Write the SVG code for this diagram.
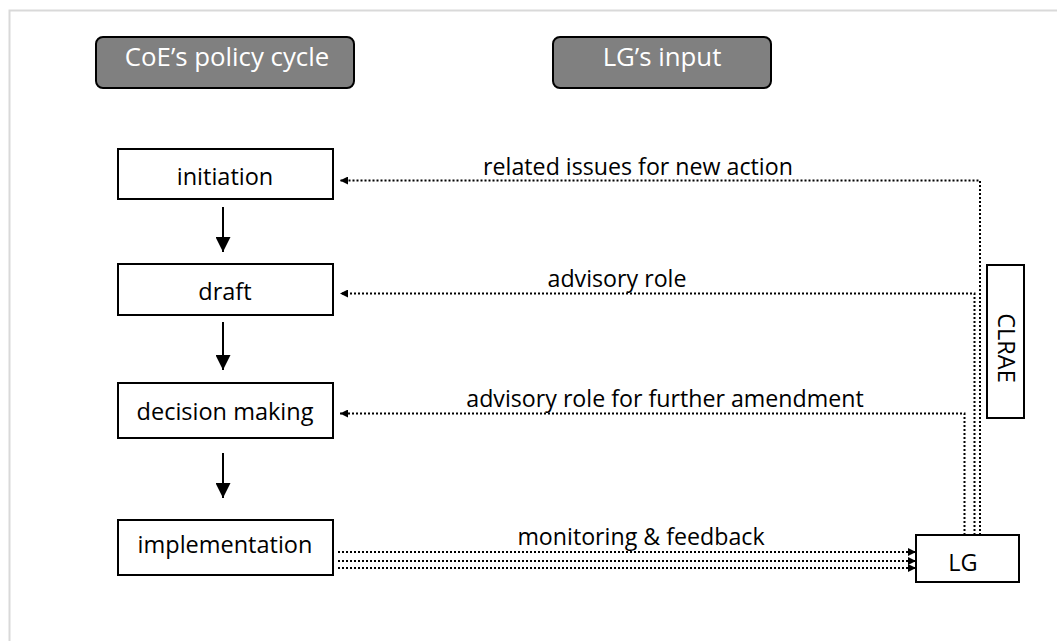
<svg xmlns="http://www.w3.org/2000/svg" width="1057" height="641" viewBox="0 0 1057 641">
<defs>
<style>
.box{fill:#fff;stroke:#000;stroke-width:2}
.hdr{fill:#808080;stroke:#000;stroke-width:2}
.t{font-family:"Open Sans","Liberation Sans",sans-serif;font-size:23.5px;fill:#000;text-anchor:middle}
.ht{font-family:"Open Sans","Liberation Sans",sans-serif;font-size:25.8px;fill:#fff;text-anchor:middle}
.lbl{font-family:"Open Sans","Liberation Sans",sans-serif;font-size:23.2px;fill:#000;text-anchor:middle}
.dot{fill:none;stroke:#000;stroke-width:2;stroke-dasharray:2 2}
.solid{fill:none;stroke:#000;stroke-width:2}
</style>
<marker id="ah" viewBox="0 0 10 10" refX="10" refY="5" markerWidth="10" markerHeight="8" markerUnits="userSpaceOnUse" orient="auto">
<path d="M0,0 L10,5 L0,10 z" fill="#000"/>
</marker>
<marker id="dh" viewBox="0 0 10 10" refX="10" refY="5" markerWidth="15" markerHeight="15" markerUnits="userSpaceOnUse" orient="auto">
<path d="M0,0 L10,5 L0,10 z" fill="#000"/>
</marker>
</defs>
<rect x="0" y="0" width="1057" height="641" fill="#fff"/>
<path d="M9.5,641 V10.5 H1057" fill="none" stroke="#d9d9d9" stroke-width="2"/>

<g id="hdr-coe">
<rect class="hdr" x="96" y="37" width="258" height="51" rx="7"/>
<text class="ht" x="227" y="66">CoE’s policy cycle</text>
</g>
<g id="hdr-lg">
<rect class="hdr" x="553" y="37" width="218" height="51" rx="7"/>
<text class="ht" x="662" y="66">LG’s input</text>
</g>

<g id="initiation">
<rect class="box" x="118" y="149" width="215" height="50"/>
<text class="t" x="225" y="185">initiation</text>
</g>
<g id="draft">
<rect class="box" x="118" y="264" width="215" height="51"/>
<text class="t" x="225" y="300">draft</text>
</g>
<g id="decision">
<rect class="box" x="118" y="383" width="215" height="55"/>
<text class="t" x="225" y="420">decision making</text>
</g>
<g id="implementation">
<rect class="box" x="118" y="520" width="215" height="55"/>
<text class="t" x="225" y="553">implementation</text>
</g>
<g id="clrae">
<rect class="box" x="987" y="265" width="37" height="153"/>
<text class="t" transform="translate(1005.5,348) rotate(90)" x="0" y="8">CLRAE</text>
</g>
<g id="lg">
<rect class="box" x="916" y="535" width="103" height="47"/>
<text class="t" x="963" y="571">LG</text>
</g>

<g id="connectors">
<line class="solid" x1="223" y1="207" x2="223" y2="252" marker-end="url(#dh)"/>
<line class="solid" x1="223" y1="322" x2="223" y2="370" marker-end="url(#dh)"/>
<line class="solid" x1="223" y1="453" x2="223" y2="498" marker-end="url(#dh)"/>

<polyline class="dot" points="980,535 980,180.5 340,180.5" marker-end="url(#ah)"/>
<polyline class="dot" points="974.5,535 974.5,293.5 340,293.5" marker-end="url(#ah)"/>
<polyline class="dot" points="964.5,535 964.5,413.5 340,413.5" marker-end="url(#ah)"/>

<line class="dot" x1="338" y1="552" x2="916" y2="552" marker-end="url(#ah)"/>
<line class="dot" x1="338" y1="561" x2="916" y2="561" marker-end="url(#ah)"/>
<line class="dot" x1="338" y1="568" x2="916" y2="568" marker-end="url(#ah)"/>

<text class="lbl" x="638" y="175">related issues for new action</text>
<text class="lbl" x="617" y="287">advisory role</text>
<text class="lbl" x="665" y="407">advisory role for further amendment</text>
<text class="lbl" x="641" y="545">monitoring &amp; feedback</text>
</g>
</svg>
